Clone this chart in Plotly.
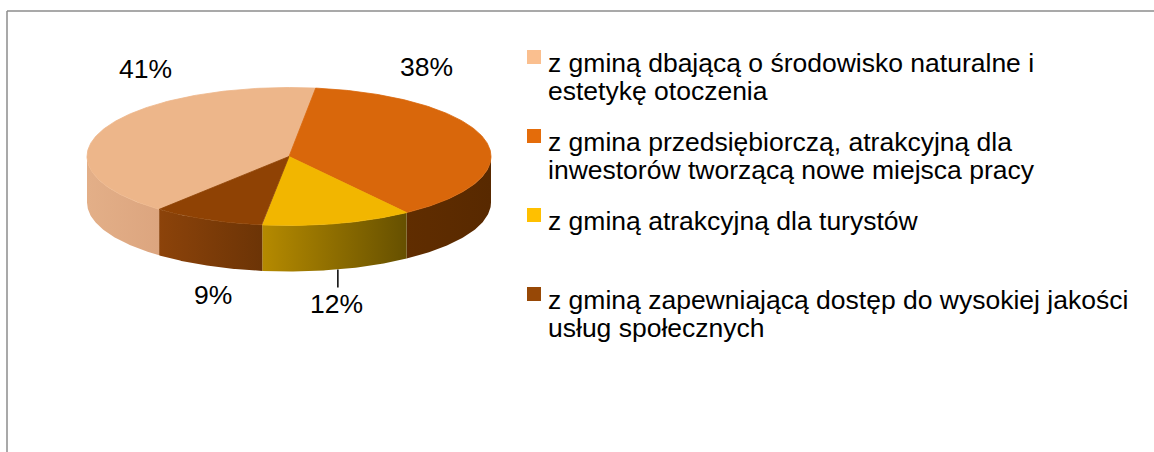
import numpy as np
import plotly.graph_objects as go

# ---------------- data ----------------
CATEGORIES = [
    "z gminą dbającą o środowisko naturalne i\nestetykę otoczenia",
    "z gmina przedsiębiorczą, atrakcyjną dla\ninwestorów tworzącą nowe miejsca pracy",
    "z gminą atrakcyjną dla turystów",
    "z gminą zapewniającą dostęp do wysokiej jakości\nusług społecznych",
]
VALUES = [41, 38, 12, 9]
LABELS = [f"{v}%" for v in VALUES]

# ---------------- styles ----------------
LEGEND_COLORS = ["#FABF8F", "#E46C0A", "#FFC000", "#974806"]
TOP_COLORS = ["#EDB68A", "#D9670B", "#F2B600", "#8F4204"]
SIDE_GRADIENTS = [("#E3AF88", "#DCA57F"), ("#602D00", "#582900"),
                  ("#B58A00", "#665000"), ("#8C430A", "#6C3406")]
FONT = "Arial, Liberation Sans, sans-serif"
FS = 26.5          # glyph size
LINE_DY = 27.5     # legend line spacing in px
BASE_FS = LINE_DY / 1.3  # plotly line height = 1.3 * base font size

W, H = 1154, 452
CX, CY, RX, RY, DEPTH = 289, 156.5, 202, 69, 46
START_DEG = 220  # first slice start, clockwise from 12 o'clock

LABEL_POS = [(145, 68.5), (426, 66.5), (336.5, 303.5), (213, 294.5)]
LEADER = [False, False, True, False]

LEG_SQ_X, LEG_TXT_X = 534, 546
LEG_Y0, LEG_DY = 57, 79


def ell(theta_deg, dy=0.0):
    t = np.radians(theta_deg)
    return CX + RX * np.sin(t), CY - RY * np.cos(t) + dy


fig = go.Figure()

total = float(sum(VALUES))
bounds = START_DEG + 360.0 * np.concatenate([[0], np.cumsum(VALUES)]) / total

# ---- outer walls (front half only) ----
for i in range(len(VALUES)):
    a, b = bounds[i], bounds[i + 1]
    for k in range(-1, 3):
        lo = max(a, 90 + 360 * k)
        hi = min(b, 270 + 360 * k)
        if hi - lo <= 0.01:
            continue
        th = np.linspace(lo, hi, 80)
        xt, yt = ell(th)
        xb, yb = ell(th[::-1], DEPTH)
        xs = np.concatenate([xt, xb, xt[:1]])
        ys = np.concatenate([yt, yb, yt[:1]])
        c0, c1 = SIDE_GRADIENTS[i]
        fig.add_trace(go.Scatter(
            x=xs, y=ys, mode="lines", fill="toself",
            line=dict(width=0, color=c1),
            fillcolor=c0,
            fillgradient=dict(type="horizontal", colorscale=[[0, c0], [1, c1]]),
            hoverinfo="skip", showlegend=False))

# ---- top faces ----
for i in range(len(VALUES)):
    th = np.linspace(bounds[i], bounds[i + 1], 200)
    xa, ya = ell(th)
    xs = np.concatenate([[CX], xa, [CX]])
    ys = np.concatenate([[CY], ya, [CY]])
    fig.add_trace(go.Scatter(
        x=xs, y=ys, mode="lines", fill="toself",
        line=dict(width=0.8, color=TOP_COLORS[i]),
        fillcolor=TOP_COLORS[i],
        hoverinfo="skip", showlegend=False, name=CATEGORIES[i].replace("\n", " ")))

# ---- percentage labels ----
annotations = []
shapes = []
for i, lab in enumerate(LABELS):
    lx, ly = LABEL_POS[i]
    annotations.append(dict(x=lx, y=ly, xref="x", yref="y", text=lab,
                            showarrow=False, xanchor="center", yanchor="middle",
                            font=dict(family=FONT, size=FS, color="#000000")))
    if LEADER[i]:
        mid = (bounds[i] + bounds[i + 1]) / 2
        px, py = ell(mid, DEPTH)
        shapes.append(dict(type="line", xref="x", yref="y", x0=px, x1=px,
                           y0=py, y1=ly - 16, line=dict(color="#000000", width=1.5)))

# ---- legend (squares + text) ----
sq_y = [LEG_Y0 + LEG_DY * i for i in range(len(CATEGORIES))]
fig.add_trace(go.Scatter(
    x=[LEG_SQ_X] * len(CATEGORIES), y=sq_y, mode="markers",
    marker=dict(symbol="square", size=14, color=LEGEND_COLORS, line=dict(width=0)),
    hoverinfo="skip", showlegend=False))
for i, cat in enumerate(CATEGORIES):
    txt = "<br>".join(f"<span style='font-size:{FS}px'>{ln}</span>" for ln in cat.split("\n"))
    annotations.append(dict(x=LEG_TXT_X, y=sq_y[i] - 11.5, xref="x", yref="y",
                            text=txt, showarrow=False, align="left",
                            xanchor="left", yanchor="top",
                            font=dict(family=FONT, size=BASE_FS, color="#000000")))

# ---- chart frame ----
shapes.append(dict(type="line", xref="x", yref="y", x0=7, x1=W + 5, y0=11, y1=11,
                   line=dict(color="#8C8C8C", width=1.5)))
shapes.append(dict(type="line", xref="x", yref="y", x0=7, x1=7, y0=11, y1=H + 5,
                   line=dict(color="#8C8C8C", width=1.5)))

fig.update_layout(
    width=W, height=H,
    margin=dict(l=0, r=0, t=0, b=0),
    paper_bgcolor="white", plot_bgcolor="white",
    xaxis=dict(range=[0, W], visible=False, fixedrange=True),
    yaxis=dict(range=[H, 0], visible=False, fixedrange=True),
    annotations=annotations, shapes=shapes,
    showlegend=False,
)

fig.write_html("out.html", config={"displayModeBar": False, "staticPlot": True},
               post_script="document.body.style.margin='0';document.body.style.overflow='hidden';")
